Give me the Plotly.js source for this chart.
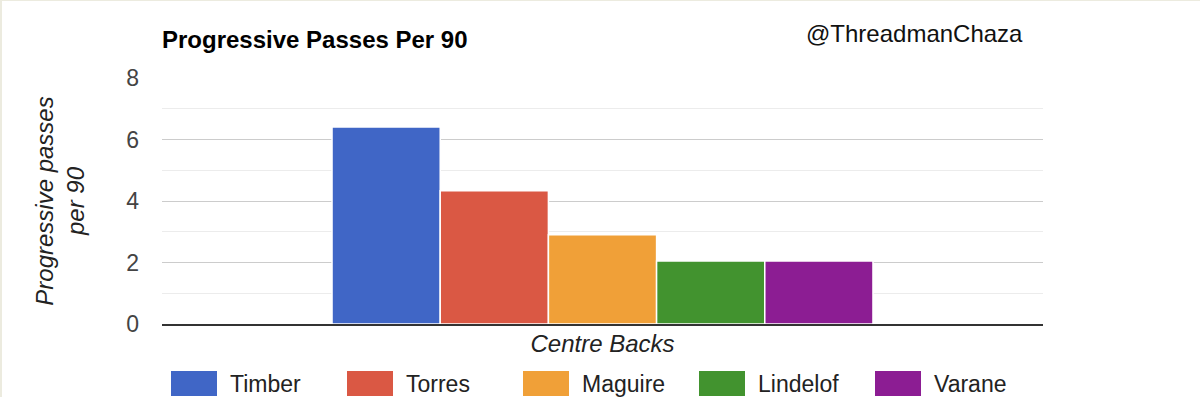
<!DOCTYPE html>
<html>
<head>
<meta charset="utf-8">
<script src="https://cdn.plot.ly/plotly-3.0.1.min.js"></script>
<style>
  html, body { margin: 0; padding: 0; background: #fff; }
  #wrap { position: relative; width: 1200px; height: 397px; }
  #chart { width: 1200px; height: 397px; }
  #frame { position: absolute; left: 0; top: 0; width: 1200px; height: 397px; box-sizing: border-box;
           border-left: 2px solid #ecebdf; border-top: 1px solid #ecebdf; pointer-events: none; }
</style>
</head>
<body>
<div id="wrap"><div id="chart"></div><div id="frame"></div></div>
<script>
// ---- data ----
const category = ["Centre Backs"];
const players = ["Timber", "Torres", "Maguire", "Lindelof", "Varane"];
const progressivePassesPer90 = [6.41, 4.33, 2.9, 2.05, 2.05];
const colors = ["#4066c6", "#da5844", "#f0a038", "#42932f", "#8c1d93"];
const yTicks = [0, 2, 4, 6, 8];

const FONT = '"Liberation Sans", Arial, Helvetica, sans-serif';

const traces = players.map((name, i) => ({
  type: "bar",
  name: name,
  x: category,
  y: [progressivePassesPer90[i]],
  marker: { color: colors[i], line: { color: "#ffffff", width: 1.5 } },
  hoverinfo: "name+y"
}));

const layout = {
  width: 1200,
  height: 397,
  margin: { l: 162, r: 157, t: 78, b: 73, pad: 0, autoexpand: false },
  paper_bgcolor: "#ffffff",
  plot_bgcolor: "#ffffff",
  font: { family: FONT, size: 23, color: "#222" },
  barmode: "group",
  bargap: 0.386,
  bargroupgap: 0,
  showlegend: true,
  title: {
    text: "<b>Progressive Passes Per 90</b>",
    font: { family: FONT, size: 24, color: "#000" },
    xref: "container", yref: "container",
    x: 162 / 1200, xanchor: "left",
    y: 1 - 40 / 397, yanchor: "middle"
  },
  xaxis: {
    type: "category",
    showticklabels: false,
    ticks: "",
    showgrid: false,
    showline: true,
    linecolor: "#333333",
    linewidth: 2,
    zeroline: false,
    fixedrange: true,
    automargin: false,
    title: {
      text: "<i>Centre Backs</i>",
      font: { family: FONT, size: 24, color: "#222" },
      standoff: 10
    }
  },
  yaxis: {
    range: [0, 8],
    tickvals: yTicks,
    ticktext: yTicks.map(String),
    ticks: "",
    ticklabelstandoff: 22,
    tickfont: { family: FONT, size: 23, color: "#444" },
    showgrid: true,
    gridcolor: "#cccccc",
    gridwidth: 1,
    minor: { dtick: 1, showgrid: true, gridcolor: "#ececec", gridwidth: 1 },
    zeroline: false,
    showline: false,
    fixedrange: true,
    automargin: false,
    title: {
      text: "<i>Progressive passes<br>per 90</i>",
      font: { family: FONT, size: 24, color: "#222" },
      standoff: 34
    }
  },
  legend: {
    orientation: "h",
    xref: "container", yref: "container",
    x: 158 / 1200, xanchor: "left",
    y: 1 - 362 / 397, yanchor: "top",
    font: { family: FONT, size: 23, color: "#222" },
    itemwidth: 62,
    entrywidth: 99,
    entrywidthmode: "pixels",
    bgcolor: "rgba(0,0,0,0)",
    itemclick: false,
    itemdoubleclick: false
  },
  annotations: [{
    text: "@ThreadmanChaza",
    xref: "paper", yref: "paper",
    x: (914 - 162) / 881, xanchor: "center",
    y: (324 - 33) / 246, yanchor: "middle",
    showarrow: false,
    font: { family: FONT, size: 24, color: "#111" }
  }]
};

Plotly.newPlot("chart", traces, layout, { displayModeBar: false }).then(gd => {
  // enlarge legend swatches to match reference's wide rectangles
  document.querySelectorAll("#chart .legend .legendpoints path").forEach(p => {
    p.setAttribute("d", "M-23,-12.5H23V12.5H-23Z");
    p.style.strokeWidth = "0";
  });
});
</script>
</body>
</html>
